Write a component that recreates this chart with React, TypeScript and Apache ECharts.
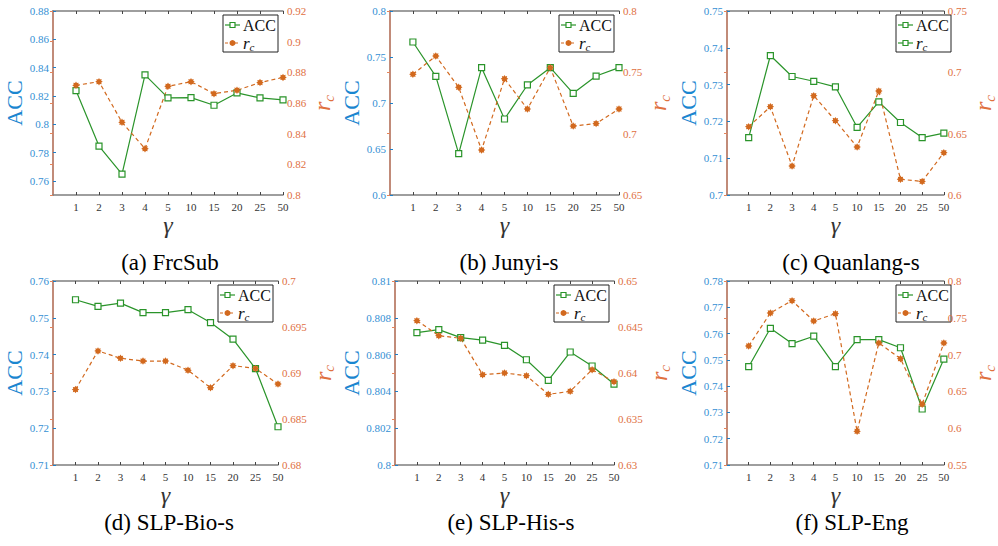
import React, { useEffect, useRef } from 'react';
import * as echarts from 'echarts';

// ---------- data ----------
const gammaLabels = ['1', '2', '3', '4', '5', '10', '15', '20', '25', '50'];
const captions = ['(a) FrcSub', '(b) Junyi-s', '(c) Quanlang-s', '(d) SLP-Bio-s', '(e) SLP-His-s', '(f) SLP-Eng'];

const accFrcSub = [0.8238, 0.7846, 0.7647, 0.8349, 0.8186, 0.8188, 0.8134, 0.8221, 0.8186, 0.8172];
const rcFrcSub = [0.8715, 0.8739, 0.8474, 0.8302, 0.8709, 0.8739, 0.8661, 0.8683, 0.8733, 0.8767];

const accJunyi = [0.7663, 0.729, 0.6449, 0.7384, 0.6826, 0.7196, 0.7384, 0.7105, 0.7293, 0.7384];
const rcJunyi = [0.7484, 0.7633, 0.7378, 0.6867, 0.7448, 0.7201, 0.7538, 0.7062, 0.7082, 0.7201];

const accQuanlang = [0.7156, 0.7379, 0.7322, 0.7309, 0.7294, 0.7184, 0.7253, 0.7197, 0.7156, 0.7168];
const rcQuanlang = [0.6557, 0.672, 0.6236, 0.681, 0.6606, 0.6391, 0.6848, 0.6128, 0.6111, 0.6345];

const accBio = [0.7549, 0.7531, 0.754, 0.7514, 0.7514, 0.7522, 0.7487, 0.7442, 0.7362, 0.7204];
const rcBio = [0.6882, 0.6924, 0.6916, 0.6913, 0.6913, 0.6903, 0.6884, 0.6908, 0.6905, 0.6888];

const accHis = [0.80719, 0.80736, 0.80692, 0.80679, 0.8065, 0.80572, 0.8046, 0.80614, 0.80538, 0.8044];
const rcHis = [0.64569, 0.64406, 0.64377, 0.63982, 0.64, 0.63971, 0.63768, 0.63801, 0.64036, 0.63906];

const accEng = [0.7474, 0.762, 0.7562, 0.759, 0.7474, 0.7577, 0.7577, 0.7546, 0.7313, 0.7503];
const rcEng = [0.7117, 0.7565, 0.7733, 0.7457, 0.7556, 0.5957, 0.7158, 0.6945, 0.6324, 0.7158];

// axis ranges [min, max] and tick labels
const accMinMax = [[0.75, 0.88], [0.6, 0.8], [0.7, 0.75], [0.71, 0.76], [0.8, 0.81], [0.71, 0.78]];
const rcMinMax = [[0.8, 0.92], [0.65, 0.8], [0.6, 0.75], [0.68, 0.7], [0.63, 0.65], [0.55, 0.8]];
const accTicksFrcSub = [0.76, 0.78, 0.8, 0.82, 0.84, 0.86, 0.88];
const accTicksJunyi = [0.6, 0.65, 0.7, 0.75, 0.8];
const accTicksQuanlang = [0.7, 0.71, 0.72, 0.73, 0.74, 0.75];
const accTicksBio = [0.71, 0.72, 0.73, 0.74, 0.75, 0.76];
const accTicksHis = [0.8, 0.802, 0.804, 0.806, 0.808, 0.81];
const accTicksEng = [0.71, 0.72, 0.73, 0.74, 0.75, 0.76, 0.77, 0.78];
const rcTicksFrcSub = [0.8, 0.82, 0.84, 0.86, 0.88, 0.9, 0.92];
const rcTicksJunyi = [0.65, 0.7, 0.75, 0.8];
const rcTicksQuanlang = [0.6, 0.65, 0.7, 0.75];
const rcTicksBio = [0.68, 0.685, 0.69, 0.695, 0.7];
const rcTicksHis = [0.63, 0.635, 0.64, 0.645, 0.65];
const rcTicksEng = [0.55, 0.6, 0.65, 0.7, 0.75, 0.8];

const accSeries = [accFrcSub, accJunyi, accQuanlang, accBio, accHis, accEng];
const rcSeries = [rcFrcSub, rcJunyi, rcQuanlang, rcBio, rcHis, rcEng];
const accTicks = [accTicksFrcSub, accTicksJunyi, accTicksQuanlang, accTicksBio, accTicksHis, accTicksEng];
const rcTicks = [rcTicksFrcSub, rcTicksJunyi, rcTicksQuanlang, rcTicksBio, rcTicksHis, rcTicksEng];

// ---------- layout / style ----------
const grids = [
  { left: 53, top: 11, width: 230, height: 184 },
  { left: 390, top: 11, width: 229, height: 184 },
  { left: 727, top: 11, width: 229, height: 184 },
  { left: 53, top: 281, width: 225, height: 184 },
  { left: 395, top: 281, width: 219, height: 184 },
  { left: 727, top: 281, width: 229, height: 184 },
];
const captionPos = [[170, 262], [509, 262], [851, 262], [169, 522], [511, 522], [852, 522]];

const SERIF = 'Liberation Serif';
const GREEN = '#2a942a';
const ORANGE = '#d2691e';
const BLUE_AX = '#1f7fc8';
const BLUE_TXT = '#3590d4';
const OR_AX = '#e4845a';
const OR_TXT = '#e0703f';
const GRAY = '#7f7f7f';

function starPath(): string {
  const pts: string[] = [];
  const n = 8;
  for (let k = 0; k < n * 2; k++) {
    const r = k % 2 === 0 ? 10 : 6.5;
    const a = (Math.PI * k) / n;
    pts.push(`${(10 + r * Math.sin(a)).toFixed(2)} ${(10 - r * Math.cos(a)).toFixed(2)}`);
  }
  return 'path://M' + pts.join(' L') + ' Z';
}
const STAR = starPath();

const fmt = (v: number) => String(+v.toFixed(4));

export default function App() {
  const ref = useRef<HTMLDivElement>(null);
  useEffect(() => {
    document.body.style.margin = '0';
    if (!ref.current) return;
    const chart = echarts.init(ref.current, undefined, { renderer: 'svg' });

    const xAxis: any[] = [];
    const yAxis: any[] = [];
    const series: any[] = [];
    const graphic: any[] = [];
    const xs = [1, 2, 3, 4, 5, 6, 7, 8, 9, 10];

    grids.forEach((g, i) => {
      xAxis.push({
        type: 'value', gridIndex: i, min: 0, max: 10, position: 'bottom',
        name: 'γ', nameLocation: 'middle', nameGap: 16,
        nameTextStyle: { fontFamily: SERIF, fontStyle: 'italic', fontSize: 24, color: '#333' },
        axisLine: { show: true, lineStyle: { color: GRAY, width: 1.5 } },
        axisTick: { show: true, inside: true, length: 3, customValues: xs, lineStyle: { color: '#444' } },
        axisLabel: {
          customValues: xs, margin: 6, fontFamily: SERIF, fontSize: 11, color: '#333',
          formatter: (v: number) => gammaLabels[Math.round(v) - 1] ?? '',
        },
        splitLine: { show: false },
      });
      xAxis.push({
        type: 'value', gridIndex: i, min: 0, max: 10, position: 'top',
        axisLine: { show: true, lineStyle: { color: GRAY, width: 1.5 } },
        axisTick: { show: true, inside: true, length: 3, customValues: xs, lineStyle: { color: '#444' } },
        axisLabel: { show: false },
        splitLine: { show: false },
      });
      yAxis.push({
        type: 'value', gridIndex: i, position: 'left',
        min: accMinMax[i][0], max: accMinMax[i][1],
        name: 'ACC', nameLocation: 'middle', nameGap: 27, nameRotate: 90,
        nameTextStyle: { fontFamily: SERIF, fontSize: 22, color: '#1a86d0' },
        axisLine: { show: true, lineStyle: { color: BLUE_AX, width: 1.5 } },
        axisTick: { show: true, inside: true, length: 3, customValues: accTicks[i], lineStyle: { color: BLUE_AX } },
        axisLabel: { customValues: accTicks[i], margin: 4, fontFamily: SERIF, fontSize: 11, color: BLUE_TXT, formatter: fmt },
        splitLine: { show: false },
      });
      yAxis.push({
        type: 'value', gridIndex: i, position: 'right',
        min: rcMinMax[i][0], max: rcMinMax[i][1],
        name: '{r|r}{c|c}', nameLocation: 'middle', nameGap: 25, nameRotate: 90,
        nameTextStyle: {
          fontFamily: SERIF, fontStyle: 'italic', color: OR_TXT,
          rich: {
            r: { fontFamily: SERIF, fontStyle: 'italic', fontSize: 24, color: OR_TXT, lineHeight: 28, verticalAlign: 'middle' },
            c: { fontFamily: SERIF, fontStyle: 'italic', fontSize: 15, color: OR_TXT, verticalAlign: 'bottom', padding: [8, 0, 0, 0] },
          },
        },
        axisLine: { show: true, lineStyle: { color: OR_AX, width: 1.5 } },
        axisTick: { show: true, inside: true, length: 3, customValues: rcTicks[i], lineStyle: { color: OR_AX } },
        axisLabel: { customValues: rcTicks[i], margin: 4, fontFamily: SERIF, fontSize: 11, color: OR_TXT, formatter: fmt },
        splitLine: { show: false },
      });

      series.push({
        type: 'line', name: 'ACC', xAxisIndex: 2 * i, yAxisIndex: 2 * i,
        data: accSeries[i].map((v, k) => [k + 1, v]),
        symbol: 'rect', symbolSize: 6,
        lineStyle: { color: GREEN, width: 1.2 },
        itemStyle: { color: '#ffffff', borderColor: GREEN, borderWidth: 1.2 },
        clip: false,
      });
      series.push({
        type: 'line', name: 'rc', xAxisIndex: 2 * i + 1, yAxisIndex: 2 * i + 1,
        data: rcSeries[i].map((v, k) => [k + 1, v]),
        symbol: STAR, symbolSize: 7.5,
        lineStyle: { color: ORANGE, width: 1.2, type: [4, 3] },
        itemStyle: { color: ORANGE, borderWidth: 0 },
        clip: false,
      });

      // legend
      const bx = g.left + g.width - 60;
      const by = g.top + 4;
      const secondGreen = i === 2;
      const items: any[] = [
        { type: 'rect', shape: { x: 0, y: 0, width: 55, height: 37 }, style: { fill: '#fff', stroke: '#222', lineWidth: 1 } },
        { type: 'line', shape: { x1: 2, y1: 10, x2: 17, y2: 10 }, style: { stroke: GREEN, lineWidth: 1.2 } },
        { type: 'rect', shape: { x: 7, y: 7.5, width: 5, height: 5 }, style: { fill: '#fff', stroke: GREEN, lineWidth: 1.2 } },
        { type: 'text', x: 20, y: 10, style: { text: 'ACC', fontFamily: SERIF, fontSize: 16, fill: '#111', verticalAlign: 'middle' } },
        secondGreen
          ? { type: 'line', shape: { x1: 2, y1: 28, x2: 17, y2: 28 }, style: { stroke: GREEN, lineWidth: 1.2 } }
          : { type: 'line', shape: { x1: 2, y1: 28, x2: 17, y2: 28 }, style: { stroke: ORANGE, lineWidth: 1.2, lineDash: [3, 2] } },
        secondGreen
          ? { type: 'rect', shape: { x: 7, y: 25.5, width: 5, height: 5 }, style: { fill: '#fff', stroke: GREEN, lineWidth: 1.2 } }
          : { type: 'circle', shape: { cx: 9.5, cy: 28, r: 3 }, style: { fill: ORANGE } },
        {
          type: 'text', x: 20, y: 28,
          style: {
            text: '{r|r}{c|c}', verticalAlign: 'middle',
            rich: {
              r: { fontFamily: SERIF, fontStyle: 'italic', fontSize: 17, fill: '#111', lineHeight: 18, verticalAlign: 'middle' },
              c: { fontFamily: SERIF, fontStyle: 'italic', fontSize: 11, fill: '#111', verticalAlign: 'bottom', padding: [6, 0, 0, 0] },
            },
          },
        },
      ];
      graphic.push({ type: 'group', x: bx, y: by, z: 100, children: items });

      graphic.push({
        type: 'text', x: captionPos[i][0], y: captionPos[i][1],
        style: { text: captions[i], fontFamily: SERIF, fontSize: 23, fill: '#000', align: 'center', verticalAlign: 'middle' },
      });
    });

    chart.setOption({
      animation: false,
      backgroundColor: '#ffffff',
      textStyle: { fontFamily: SERIF },
      grid: grids.map((g) => ({ ...g, containLabel: false })),
      xAxis,
      yAxis,
      series,
      graphic,
    });
    return () => chart.dispose();
  }, []);
  return <div ref={ref} style={{ width: 998, height: 546 }} />;
}
